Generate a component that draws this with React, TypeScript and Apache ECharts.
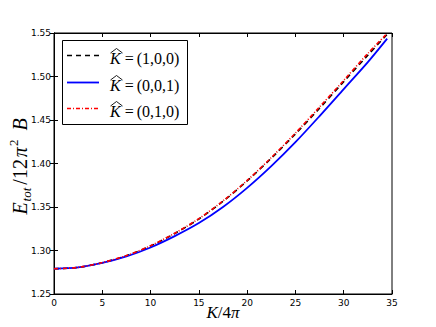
import React, { useRef, useEffect } from "react";
import * as echarts from "echarts";

const kValues = [0, 2.5, 5, 7.5, 10, 12.5, 15, 17.5, 20, 22.5, 25, 27.5, 30, 32.5, 34.5];
const e100 = [1.279, 1.2806, 1.286, 1.294, 1.3052, 1.3195, 1.3362, 1.3565, 1.38, 1.406, 1.434, 1.4635, 1.494, 1.5245, 1.5485];
const e001 = [1.279, 1.2805, 1.2857, 1.2932, 1.3035, 1.3165, 1.3315, 1.35, 1.372, 1.397, 1.4245, 1.4545, 1.4855, 1.5165, 1.5435];
const e010 = [1.279, 1.2806, 1.2861, 1.2942, 1.3055, 1.3198, 1.3366, 1.357, 1.3805, 1.4068, 1.435, 1.465, 1.4955, 1.5265, 1.5495];
const legendLabels = ["(1,0,0)", "(0,0,1)", "(0,1,0)"];
const xTicks = { min: 0, max: 35, interval: 5 };
const yTicks = { min: 1.25, max: 1.55, interval: 0.05 };

const SERIF = "'Liberation Serif', 'DejaVu Serif', serif";
const SANS = "'DejaVu Sans', sans-serif";

export default function App() {
  const ref = useRef<HTMLDivElement>(null);
  useEffect(() => {
    const chart = echarts.init(ref.current!, null, { renderer: "svg" });
    const pair = (ys: number[]) => kValues.map((k, i) => [k, ys[i]]);
    const styles = [
      { color: "#000000", type: [5, 4] as any, width: 1.6 },
      { color: "#0000ff", type: "solid" as any, width: 1.8 },
      { color: "#ff0000", type: [4, 2, 1, 2] as any, width: 1.6 },
    ];
    const data = [e100, e001, e010];
    const names = legendLabels.map((l) => "K\u0302=" + l);

    const axisCommon = {
      axisLine: { show: true, lineStyle: { color: "#000", width: 1 } },
      axisTick: { show: true, inside: true, length: 4, lineStyle: { color: "#000", width: 1 } },
      splitLine: { show: false },
    };

    const rowY = [55.5, 82.5, 108.5];
    const legendEls: any[] = [
      {
        type: "rect",
        shape: { x: 62.5, y: 40.5, width: 125, height: 84 },
        style: { fill: "#fff", stroke: "#000", lineWidth: 1 },
        z: 100,
      },
    ];
    rowY.forEach((y, i) => {
      legendEls.push({
        type: "line",
        shape: { x1: 67, y1: y, x2: 99, y2: y },
        style: { stroke: styles[i].color, lineWidth: styles[i].width, lineDash: styles[i].type === "solid" ? null : styles[i].type },
        z: 101,
      });
      legendEls.push({
        type: "text",
        x: 110,
        y: y + 3,
        style: {
          text: "{k|K}{e|=}{n|" + legendLabels[i] + "}",
          verticalAlign: "middle",
          align: "left",
          rich: {
            k: { fontFamily: SERIF, fontStyle: "italic", fontSize: 16, fill: "#000" },
            e: { fontFamily: SERIF, fontSize: 16, fill: "#000", padding: [0, 3, 0, 4] },
            n: { fontFamily: SERIF, fontSize: 16, fill: "#000" },
          },
        },
        z: 101,
      });
      legendEls.push({
        type: "polyline",
        shape: { points: [[110.5, y - 2.5], [116.5, y - 7], [122.5, y - 2.5]] },
        style: { stroke: "#000", lineWidth: 0.9, fill: null },
        z: 101,
      });
    });

    chart.setOption({
      animation: false,
      backgroundColor: "#fff",
      grid: { left: 54, right: 44, top: 33, bottom: 33, show: true, borderColor: "#000", borderWidth: 1 },
      xAxis: [
        {
          type: "value",
          ...xTicks,
          position: "bottom",
          ...axisCommon,
          axisLabel: { show: true, fontFamily: SANS, fontSize: 9, color: "#000", margin: 4 },
        },
        {
          type: "value",
          ...xTicks,
          position: "top",
          ...axisCommon,
          axisLabel: { show: false },
        },
      ],
      yAxis: [
        {
          type: "value",
          ...yTicks,
          position: "left",
          ...axisCommon,
          axisLabel: { show: true, fontFamily: SANS, fontSize: 9, color: "#000", margin: 3, formatter: (v: number) => v.toFixed(2) },
        },
        {
          type: "value",
          ...yTicks,
          position: "right",
          ...axisCommon,
          axisLabel: { show: false },
        },
      ],
      series: data.map((ys, i) => ({
        type: "line",
        name: names[i],
        data: pair(ys),
        xAxisIndex: 0,
        yAxisIndex: 0,
        smooth: 0.3,
        showSymbol: false,
        symbol: "none",
        lineStyle: { color: styles[i].color, width: styles[i].width, type: styles[i].type },
        z: 2 + i,
      })),
      graphic: [
        ...legendEls,
        {
          type: "text",
          x: 223,
          y: 312,
          style: {
            text: "{i|K}{n|/4}{i|\u03c0}",
            align: "center",
            verticalAlign: "middle",
            rich: {
              i: { fontFamily: SERIF, fontStyle: "italic", fontSize: 17, fill: "#000" },
              n: { fontFamily: SERIF, fontSize: 17, fill: "#000" },
            },
          },
        },
        {
          type: "text",
          x: 20,
          y: 167,
          rotation: Math.PI / 2,
          style: {
            text: "{i|E}{sub|tot}{n|/12}{i|\u03c0}{sup|2}{b|B}",
            align: "center",
            verticalAlign: "middle",
            rich: {
              i: { fontFamily: SERIF, fontStyle: "italic", fontSize: 20, fill: "#000", lineHeight: 26, verticalAlign: "middle", padding: [0, 1, 0, 1] },
              n: { fontFamily: SERIF, fontSize: 20, fill: "#000", lineHeight: 26, verticalAlign: "middle", padding: [0, 1, 0, 1] },
              sub: { fontFamily: SERIF, fontStyle: "italic", fontSize: 13, fill: "#000", lineHeight: 11, verticalAlign: "bottom", padding: [0, 2, 0, 0] },
              sup: { fontFamily: SERIF, fontSize: 13, fill: "#000", lineHeight: 11, verticalAlign: "top" },
              b: { fontFamily: SERIF, fontStyle: "italic", fontSize: 20, fill: "#000", lineHeight: 26, verticalAlign: "middle", padding: [0, 0, 0, 9] },
            },
          },
        },
      ],
    });
    return () => chart.dispose();
  }, []);
  return (
    <div
      ref={ref}
      style={{ position: "absolute", left: 0, top: 0, width: 436, height: 327, background: "#fff" }}
    />
  );
}
